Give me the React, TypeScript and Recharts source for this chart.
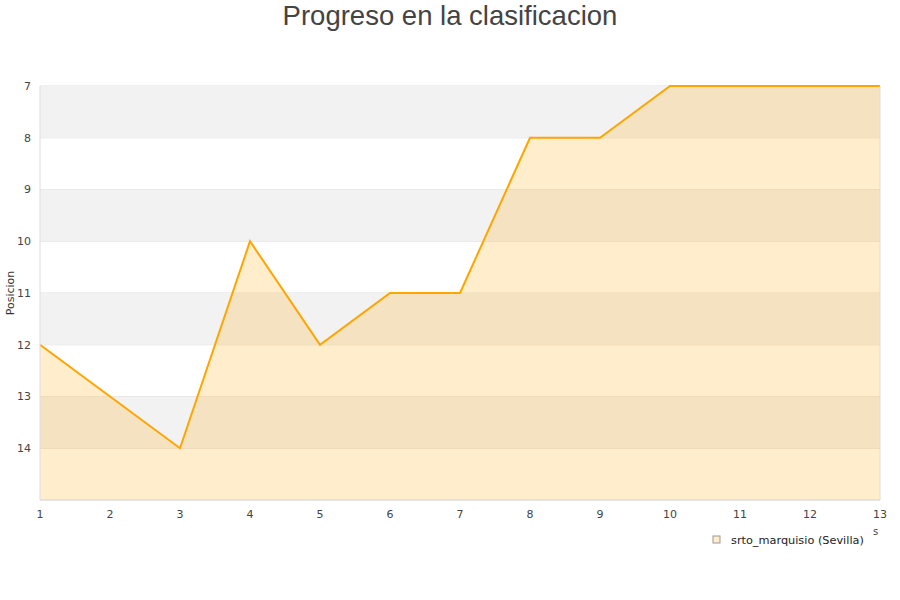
import React from "react";
import {
  ComposedChart,
  Area,
  XAxis,
  YAxis,
  CartesianGrid,
  ReferenceArea,
} from "recharts";

// Jornadas (rounds) and the team's league position after each one
const jornadas = [1, 2, 3, 4, 5, 6, 7, 8, 9, 10, 11, 12, 13];
const posiciones = [12, 13, 14, 10, 12, 11, 11, 8, 8, 7, 7, 7, 7];
const yTicks = [7, 8, 9, 10, 11, 12, 13, 14];
const shadedBands: [number, number][] = [
  [7, 8],
  [9, 10],
  [11, 12],
  [13, 14],
];
const seriesName = "srto_marquisio (Sevilla)";

const data = jornadas.map((j, i) => ({ jornada: j, posicion: posiciones[i] }));

const tickStyle = { fontSize: 11, fill: "#444", fontFamily: "DejaVu Sans" };

export default function App() {
  return (
    <div style={{ position: "absolute", left: 0, top: 0, width: 900, height: 600, background: "#fff" }}>
      <div
        style={{
          position: "absolute",
          top: 0,
          left: 0,
          width: 900,
          textAlign: "center",
          fontFamily: "Liberation Sans",
          fontSize: 27.5,
          color: "#444",
          lineHeight: "32px",
        }}
      >
        Progreso en la clasificacion
      </div>
      <ComposedChart
        width={900}
        height={600}
        data={data}
        margin={{ top: 86, right: 20, bottom: 70, left: 0 }}
      >
        {shadedBands.map(([a, b]) => (
          <ReferenceArea key={a} y1={a} y2={b} fill="#f2f2f2" fillOpacity={1} stroke="none" ifOverflow="visible" />
        ))}
        <CartesianGrid vertical={false} stroke="#e0e0e0" />
        <XAxis
          dataKey="jornada"
          type="number"
          domain={[1, 13]}
          ticks={jornadas}
          height={30}
          tick={tickStyle}
          tickLine={false}
          axisLine={{ stroke: "#ddd" }}
          tickMargin={4}
        />
        <YAxis
          type="number"
          reversed
          domain={[7, 15]}
          ticks={yTicks}
          width={40}
          tick={tickStyle}
          tickLine={false}
          axisLine={{ stroke: "#ddd" }}
          tickMargin={3}
          interval={0}
        />
        <Area
          type="linear"
          dataKey="posicion"
          name={seriesName}
          baseValue={15}
          stroke="#ffa500"
          strokeWidth={2}
          fill="#ffa500"
          fillOpacity={0.2}
          dot={false}
          activeDot={false}
          isAnimationActive={false}
        />
      </ComposedChart>
      <svg style={{ position: "absolute", left: 0, top: 0, pointerEvents: "none" }} width={900} height={600}>
        <line x1={880} y1={86} x2={880} y2={500} stroke="#ddd" />
        <text
          x={14}
          y={293}
          transform="rotate(-90 14 293)"
          textAnchor="middle"
          fontFamily="DejaVu Sans"
          fontSize={11}
          fill="#333"
        >
          Posicion
        </text>
        <text x={873} y={535} fontFamily="DejaVu Sans" fontSize={10} fill="#444">
          s
        </text>
        <rect x={713} y={536} width={7} height={7} fill="#ffedcc" stroke="#999" strokeWidth={1} />
        <text x={731} y={544} fontFamily="DejaVu Sans" fontSize={11.3} fill="#222">
          {seriesName}
        </text>
      </svg>
    </div>
  );
}
